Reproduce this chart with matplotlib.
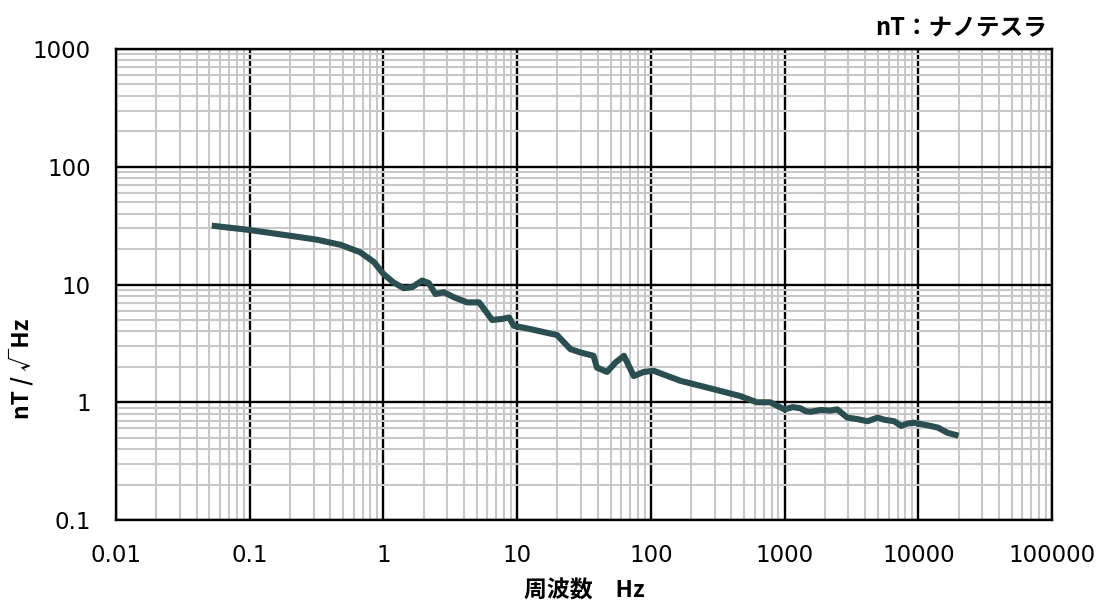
import numpy as np
import matplotlib
matplotlib.use('Agg')
import matplotlib.pyplot as plt
from matplotlib.ticker import FixedLocator, LogLocator, NullFormatter

plt.rcParams['font.family'] = ['Noto Sans CJK JP', 'DejaVu Sans']

# noise spectrum
freq_hz = [0.052, 0.096, 0.18, 0.32, 0.48, 0.67, 0.85, 1.0, 1.19, 1.42,
           1.64, 1.95, 2.18, 2.45, 2.83, 3.36, 4.23, 5.2, 6.5, 7.7,
           8.7, 9.45, 12.6, 19.9, 25.0, 29.7, 37.3, 39.5, 47.0, 54.5,
           62.9, 68.4, 74.5, 88.5, 105, 167, 296, 465, 620, 780,
           1000, 1150, 1310, 1440, 1560, 1860, 2200, 2480, 2950, 3500,
           4170, 4960, 5600, 6610, 7430, 8300, 9300, 11500, 14000, 16600,
           20000]
noise_nt = [31.6, 29.2, 26.4, 24.0, 21.7, 18.8, 15.5, 12.3, 10.4, 9.3,
            9.5, 10.8, 10.3, 8.3, 8.6, 7.8, 7.05, 7.05, 5.0, 5.1,
            5.25, 4.46, 4.18, 3.72, 2.83, 2.65, 2.48, 1.97, 1.81, 2.18,
            2.48, 2.04, 1.67, 1.81, 1.85, 1.52, 1.29, 1.13, 1.0, 1.0,
            0.87, 0.91, 0.89, 0.84, 0.83, 0.86, 0.85, 0.87, 0.74, 0.72,
            0.69, 0.74, 0.71, 0.69, 0.63, 0.66, 0.67, 0.64, 0.61, 0.55,
            0.52]

x_ticks = [0.01, 0.1, 1, 10, 100, 1000, 10000, 100000]
x_labels = ['0.01', '0.1', '1', '10', '100', '1000', '10000', '100000']
y_ticks = [0.1, 1, 10, 100, 1000]
y_labels = ['0.1', '1', '10', '100', '1000']

fig = plt.figure(figsize=(11.07, 6.04), dpi=100)
ax = fig.add_axes([0.1048, 0.139, 0.8455, 0.7799])

ax.set_xscale('log')
ax.set_yscale('log')
ax.set_xlim(0.01, 100000)
ax.set_ylim(0.1, 1000)

ax.xaxis.set_major_locator(FixedLocator(x_ticks))
ax.yaxis.set_major_locator(FixedLocator(y_ticks))
ax.set_xticklabels(x_labels, family='DejaVu Sans')
ax.set_yticklabels(y_labels, family='DejaVu Sans')
ax.xaxis.set_minor_locator(LogLocator(base=10, subs=np.arange(2, 10), numticks=20))
ax.yaxis.set_minor_locator(LogLocator(base=10, subs=np.arange(2, 10), numticks=20))
ax.xaxis.set_minor_formatter(NullFormatter())
ax.yaxis.set_minor_formatter(NullFormatter())

ax.grid(which='minor', color='#c8c8c8', lw=1.5, zorder=0)
ax.grid(which='major', color='black', lw=1.7, zorder=1)
ax.set_axisbelow(True)

ax.tick_params(which='both', length=0)
ax.tick_params(axis='x', labelsize=16.5, pad=17)
ax.tick_params(axis='y', labelsize=16.5, pad=18)

for sp in ax.spines.values():
    sp.set_color('black')
    sp.set_linewidth(1.7)

ax.plot(freq_hz, noise_nt, color='#2b4f50', lw=4.4, solid_capstyle='butt',
        solid_joinstyle='round', zorder=3)

ax.set_xlabel('周波数　Hz', fontsize=16.5, fontweight='bold', labelpad=9)
ax.set_ylabel('nT / √Hz', fontsize=16.5, fontweight='bold')
ax.yaxis.set_label_coords(-0.088, 0.32)

fig.text(0.946, 0.953, 'nT：ナノテスラ', ha='right', va='center',
         fontsize=17, fontweight='bold')

plt.savefig('out.png', dpi=100)
